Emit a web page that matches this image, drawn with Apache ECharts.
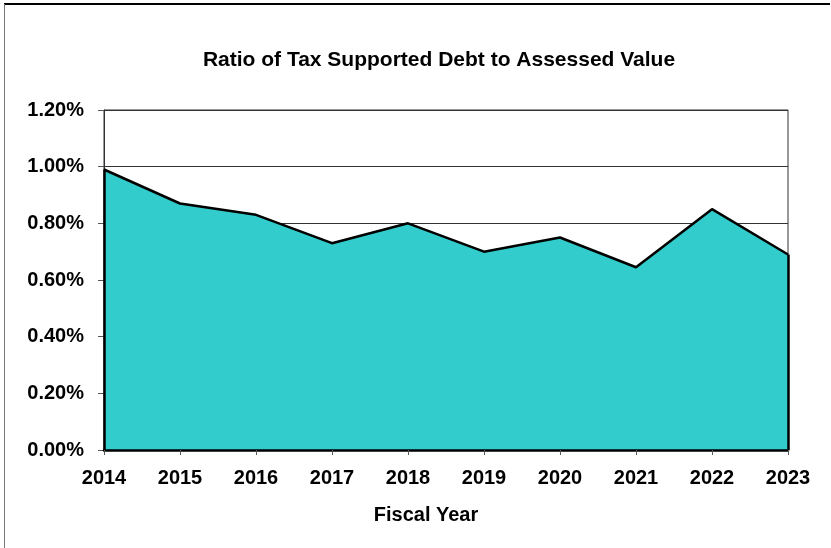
<!DOCTYPE html>
<html>
<head>
<meta charset="utf-8">
<script src="https://cdn.jsdelivr.net/npm/echarts@6/dist/echarts.min.js"></script>
<style>
html,body{margin:0;padding:0;background:#fff;}
#chart{width:831px;height:548px;}
</style>
</head>
<body>
<div id="chart"></div>
<script>
const titleText = 'Ratio of Tax Supported Debt to Assessed Value';
const xAxisName = 'Fiscal Year';
const years = ['2014','2015','2016','2017','2018','2019','2020','2021','2022','2023'];
const debtRatio = [0.99, 0.87, 0.83, 0.73, 0.80, 0.70, 0.75, 0.645, 0.85, 0.69];
const yTicks = [0, 0.2, 0.4, 0.6, 0.8, 1.0, 1.2];

const FONT = '"Liberation Sans", Arial, sans-serif';
const chart = echarts.init(document.getElementById('chart'), null, {renderer: 'canvas'});

const lastIdx = years.length - 1;
chart.setOption({
  animation: false,
  backgroundColor: '#fff',
  title: {
    text: titleText,
    left: 434,
    textAlign: 'center',
    top: 45,
    textStyle: {fontFamily: FONT, fontWeight: 'bold', fontSize: 21, color: '#000'}
  },
  graphic: [
    {type: 'line', shape: {x1: 4, y1: 4, x2: 830, y2: 4}, style: {stroke: '#000', lineWidth: 2}, silent: true},
    {type: 'line', shape: {x1: 4.5, y1: 4, x2: 4.5, y2: 548}, style: {stroke: '#777', lineWidth: 1}, silent: true}
  ],
  grid: {
    left: 104, right: 43, top: 110, bottom: 98,
    show: true, borderColor: '#333', borderWidth: 1, backgroundColor: 'transparent'
  },
  xAxis: {
    type: 'category',
    data: years,
    boundaryGap: false,
    name: xAxisName,
    nameLocation: 'middle',
    nameGap: 55,
    nameTextStyle: {fontFamily: FONT, fontWeight: 'bold', fontSize: 20, color: '#000', padding: [0, 40, 0, 0]},
    axisLine: {show: true, lineStyle: {color: '#000', width: 2.5}},
    axisTick: {show: true, alignWithLabel: true, length: 5, lineStyle: {color: '#555', width: 1}},
    axisLabel: {fontFamily: FONT, fontWeight: 'bold', fontSize: 20, color: '#000', margin: 18},
    splitLine: {show: false},
    z: 5
  },
  yAxis: {
    type: 'value',
    min: 0, max: 1.2, interval: 0.2,
    axisLine: {show: true, lineStyle: {color: '#333', width: 1}},
    axisTick: {show: true, length: 6, lineStyle: {color: '#555', width: 1}},
    axisLabel: {
      fontFamily: FONT, fontWeight: 'bold', fontSize: 20, color: '#000', margin: 20,
      formatter: v => v.toFixed(2) + '%'
    },
    splitLine: {show: true, lineStyle: {color: '#333', width: 1}}
  },
  series: [{
    type: 'line',
    data: debtRatio,
    symbol: 'none',
    lineStyle: {color: '#000', width: 2.5},
    areaStyle: {color: '#33CCCC', opacity: 1},
    z: 3,
    markLine: {
      silent: true,
      symbol: 'none',
      label: {show: false},
      lineStyle: {color: '#000', width: 2.5, type: 'solid'},
      data: [
        [{coord: [years[0], 0]}, {coord: [years[0], debtRatio[0]]}],
        [{coord: [years[lastIdx], 0]}, {coord: [years[lastIdx], debtRatio[lastIdx]]}]
      ]
    }
  }]
});
</script>
</body>
</html>
